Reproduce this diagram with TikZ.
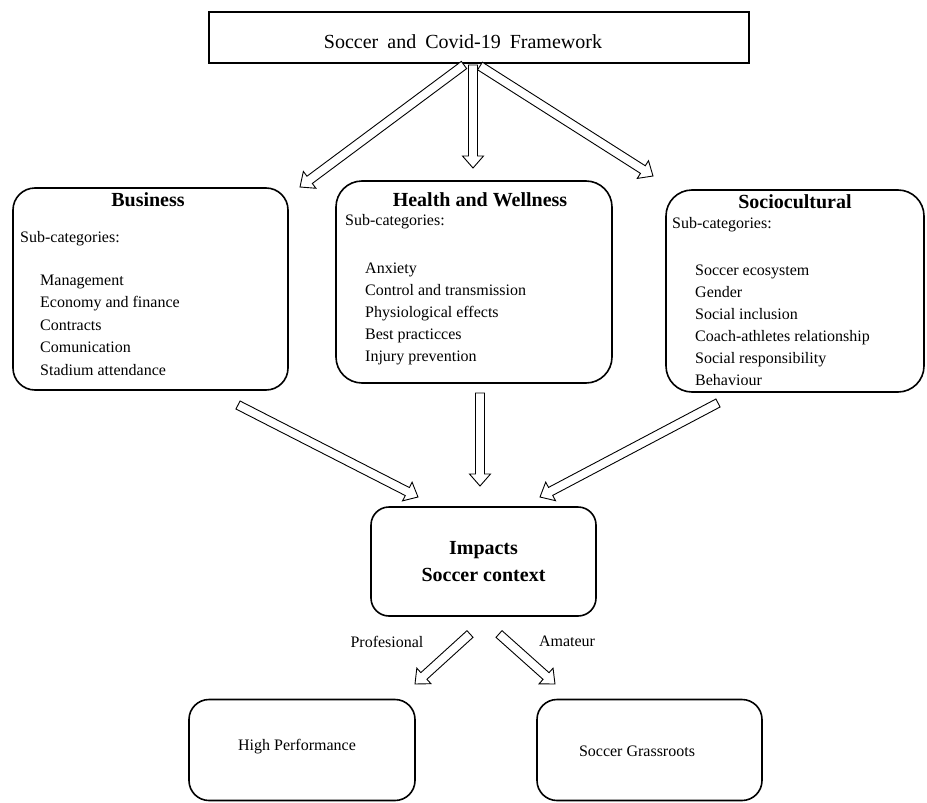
\documentclass[tikz,border=0pt]{standalone}
\usepackage{fontspec}
\setmainfont{Liberation Serif}
\usetikzlibrary{calc}
\tikzset{
  box/.style={draw=black, line width=1.6pt, rounded corners=22pt, minimum width=#1},
  box/.default=10pt,
  bodytxt/.style={font=\fontsize{16}{19}\selectfont, inner sep=0pt, anchor=base west},
  ctrtxt/.style={font=\fontsize{16}{19}\selectfont, inner sep=0pt},
  headtxt/.style={font=\bfseries\fontsize{20}{24}\selectfont, inner sep=0pt},
  arrowline/.style={draw=black, line width=0.9pt, fill=white, line join=miter},
}
\newcommand\blockarr[3]{%
  \coordinate (#1t) at (#2);
  \coordinate (#1p) at (#3);
  \coordinate (#1h) at ($(#1p)!12pt!(#1t)$);
  \draw[arrowline] ($(#1t)!4.5pt!90:(#1p)$) -- ($(#1h)!4.5pt!90:(#1p)$)
    -- ($(#1h)!10.5pt!90:(#1p)$) -- (#1p) -- ($(#1h)!10.5pt!-90:(#1p)$)
    -- ($(#1h)!4.5pt!-90:(#1p)$) -- ($(#1t)!4.5pt!-90:(#1p)$) -- cycle;
}
\begin{document}
\begin{tikzpicture}[x=1pt,y=-1pt]
\useasboundingbox[fill=white] (0,0) rectangle (927,803);

% title
\node[draw=black, line width=2pt, minimum width=540pt, minimum height=51pt] (title) at (479,37.5) {};
\node[inner sep=0pt, font=\fontsize{20}{24}\selectfont] (titlet) at (463,42)
  {Soccer\hspace{0.45em}and\hspace{0.45em}Covid-19\hspace{0.45em}Framework};

% three category boxes
\node[box=275pt, minimum height=202pt] (bus) at (150.5,289) {};
\node[box=276pt, minimum height=202pt, rounded corners=26pt] (hea) at (474,282) {};
\node[box=258pt, minimum height=202pt, rounded corners=26pt] (soc) at (795,291) {};

\node[headtxt] (bust) at (148,200) {Business};
\node[headtxt] (heat) at (480,200) {Health and Wellness};
\node[headtxt] (soct) at (795,202) {Sociocultural};

\node[bodytxt] (buss) at (20,242) {Sub-categories:};
\node[bodytxt] (heas) at (345,225) {Sub-categories:};
\node[bodytxt] (socs) at (672,228) {Sub-categories:};

\foreach \t [count=\i from 0] in {Management, Economy and finance, Contracts, Comunication, Stadium attendance}
  \node[bodytxt] (busi\i) at (40,285+22.5*\i) {\t};
\foreach \t [count=\i from 0] in {Anxiety, Control and transmission, Physiological effects, Best practicces, Injury prevention}
  \node[bodytxt] (heai\i) at (365,273+22*\i) {\t};
\foreach \t [count=\i from 0] in {Soccer ecosystem, Gender, Social inclusion, Coach-athletes relationship, Social responsibility, Behaviour}
  \node[bodytxt] (soci\i) at (695,275+22*\i) {\t};

% impacts
\node[box=225pt, minimum height=109pt, rounded corners=18pt, headtxt, align=center,
      font=\bfseries\fontsize{20}{27}\selectfont] (imp) at (483.5,561.5) {Impacts\\Soccer context};

% bottom boxes
\node[box=226pt, minimum height=101pt, rounded corners=20pt] (hp) at (302,750) {};
\node[box=225pt, minimum height=101pt, rounded corners=20pt] (gr) at (649.5,750) {};
\node[ctrtxt] (hpt) at (297,747) {High Performance};
\node[ctrtxt] (grt) at (637,751) {Soccer Grassroots};

% labels
\node[ctrtxt] (prof) at (387,642) {Profesional};
\node[ctrtxt] (amat) at (567,641) {Amateur};

% arrows
\blockarr{a1}{464,65}{300,187}
\blockarr{a2}{473,65}{473,168}
\blockarr{a3}{480,66}{653,176}
\blockarr{b1}{238,405}{418,497}
\blockarr{b2}{480,393}{480,486}
\blockarr{b3}{718,403}{540,497}
\blockarr{c1}{470,634}{415,684}
\blockarr{c2}{499,634}{555,684}
\end{tikzpicture}
\end{document}
